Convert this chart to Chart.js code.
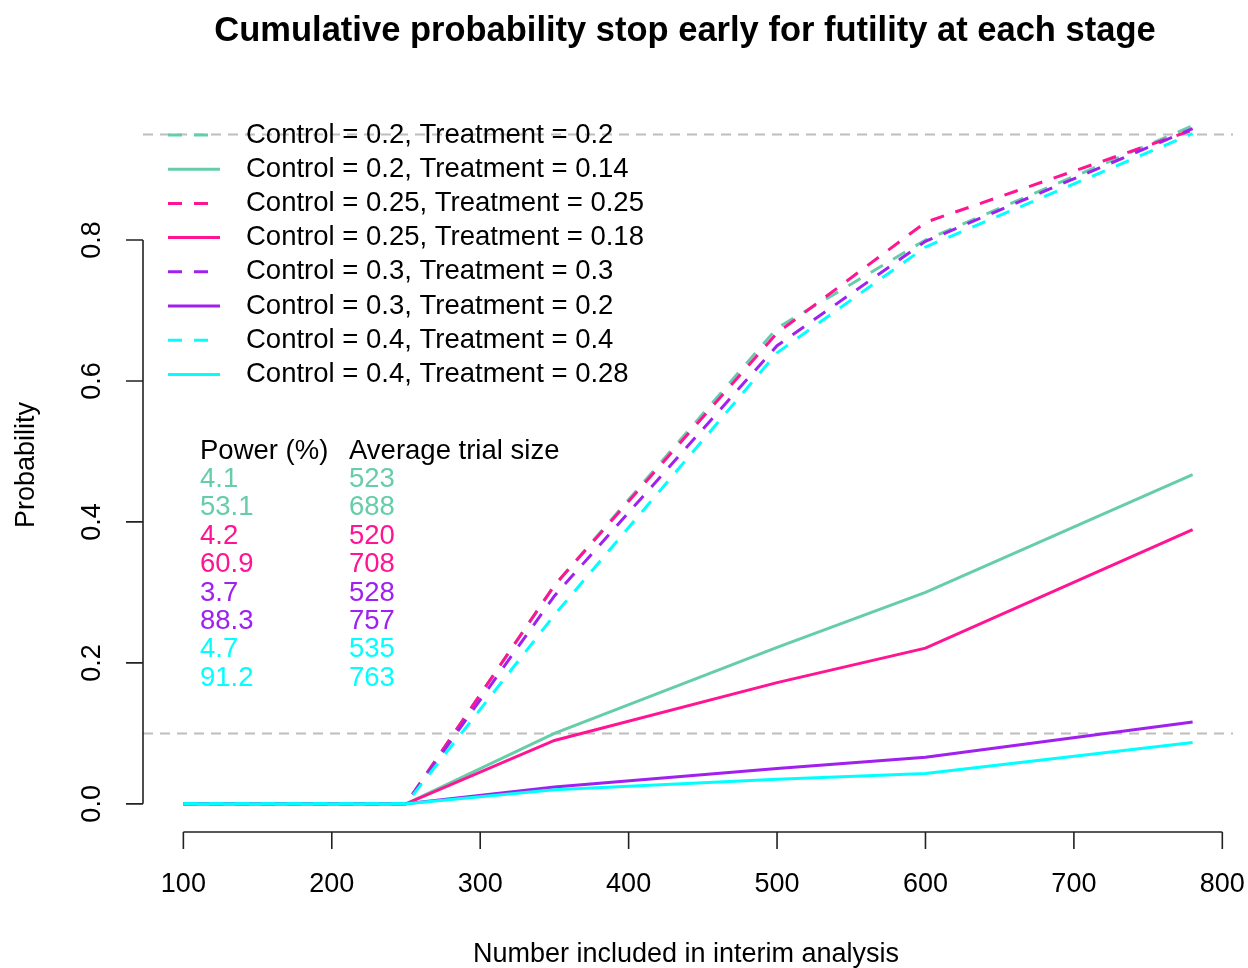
<!DOCTYPE html>
<html>
<head>
<meta charset="utf-8">
<title>Cumulative probability stop early for futility</title>
<script src="https://cdn.jsdelivr.net/npm/chart.js@4.4.1/dist/chart.umd.min.js"></script>
<style>
  body { margin: 0; background: #fff; }
  #grafico { display: block; }
</style>
</head>
<body>
<canvas id="grafico" width="1248" height="968"></canvas>
<script>
// etapas (n incluidos en cada analisis interino)
const etapas = [100, 250, 350, 500, 600, 780];

// probabilidad acumulada de parar por futilidad en cada etapa
const ctl20trt20 = [0, 0, 0.310, 0.675, 0.800, 0.962];
const ctl20trt14 = [0, 0, 0.100, 0.222, 0.300, 0.467];
const ctl25trt25 = [0, 0, 0.310, 0.668, 0.825, 0.956];
const ctl25trt18 = [0, 0, 0.090, 0.172, 0.221, 0.389];
const ctl30trt30 = [0, 0, 0.295, 0.650, 0.798, 0.958];
const ctl30trt20 = [0, 0, 0.024, 0.050, 0.066, 0.116];
const ctl40trt40 = [0, 0, 0.268, 0.640, 0.790, 0.951];
const ctl40trt28 = [0, 0, 0.020, 0.035, 0.043, 0.087];

const etiquetas = [
  'Control = 0.2, Treatment = 0.2',
  'Control = 0.2, Treatment = 0.14',
  'Control = 0.25, Treatment = 0.25',
  'Control = 0.25, Treatment = 0.18',
  'Control = 0.3, Treatment = 0.3',
  'Control = 0.3, Treatment = 0.2',
  'Control = 0.4, Treatment = 0.4',
  'Control = 0.4, Treatment = 0.28'
];
const colores = ['#66CDAA', '#66CDAA', '#FF1493', '#FF1493', '#A020F0', '#A020F0', '#00FFFF', '#00FFFF'];
const punteada = [true, false, true, false, true, false, true, false];

const potencia = ['4.1', '53.1', '4.2', '60.9', '3.7', '88.3', '4.7', '91.2'];
const tamanoMedio = ['523', '688', '520', '708', '528', '757', '535', '763'];

const ticksX = [100, 200, 300, 400, 500, 600, 700, 800];
const ticksY = [0, 0.2, 0.4, 0.6, 0.8];
const lineasRef = [0.1, 0.95];

const series = [ctl20trt20, ctl20trt14, ctl25trt25, ctl25trt18, ctl30trt30, ctl30trt20, ctl40trt40, ctl40trt28];

const fuente = '"Liberation Sans", Arial, sans-serif';
const DASH = [14, 12];

// ejes al estilo R base, lineas de referencia, leyenda y tabla
const ejesR = {
  id: 'ejesR',
  beforeDatasetsDraw(chart) {
    const { ctx, chartArea, scales } = chart;
    ctx.save();
    ctx.strokeStyle = '#BEBEBE';
    ctx.lineWidth = 2;
    ctx.setLineDash([10, 7]);
    lineasRef.forEach(v => {
      const y = Math.round(scales.y.getPixelForValue(v)) + 0.5;
      ctx.beginPath();
      ctx.moveTo(chartArea.left, y);
      ctx.lineTo(chartArea.right, y);
      ctx.stroke();
    });
    ctx.restore();
  },
  afterDraw(chart) {
    const { ctx, chartArea, scales } = chart;
    const sx = scales.x, sy = scales.y;
    ctx.save();
    ctx.strokeStyle = '#222';
    ctx.fillStyle = '#000';
    ctx.lineWidth = 1.6;

    // eje x
    const yEje = chartArea.bottom + 1;
    const x0 = sx.getPixelForValue(ticksX[0]);
    const x1 = sx.getPixelForValue(ticksX[ticksX.length - 1]);
    ctx.beginPath();
    ctx.moveTo(x0, yEje);
    ctx.lineTo(x1, yEje);
    ticksX.forEach(t => {
      const x = sx.getPixelForValue(t);
      ctx.moveTo(x, yEje);
      ctx.lineTo(x, yEje + 17);
    });
    ctx.stroke();
    ctx.font = '27px ' + fuente;
    ctx.textAlign = 'center';
    ctx.textBaseline = 'middle';
    ticksX.forEach(t => ctx.fillText(String(t), sx.getPixelForValue(t), 885));

    // eje y
    const xEje = chartArea.left;
    const ya = sy.getPixelForValue(ticksY[0]);
    const yb = sy.getPixelForValue(ticksY[ticksY.length - 1]);
    ctx.beginPath();
    ctx.moveTo(xEje, ya);
    ctx.lineTo(xEje, yb);
    ticksY.forEach(t => {
      const y = sy.getPixelForValue(t);
      ctx.moveTo(xEje, y);
      ctx.lineTo(xEje - 17, y);
    });
    ctx.stroke();
    ticksY.forEach(t => {
      ctx.save();
      ctx.translate(93, sy.getPixelForValue(t));
      ctx.rotate(-Math.PI / 2);
      ctx.fillText(t.toFixed(1), 0, 0);
      ctx.restore();
    });

    // titulos
    ctx.fillText('Number included in interim analysis', 686, 955);
    ctx.save();
    ctx.translate(27, 465);
    ctx.rotate(-Math.PI / 2);
    ctx.fillText('Probability', 0, 0);
    ctx.restore();
    ctx.font = 'bold 34.5px ' + fuente;
    ctx.fillText('Cumulative probability stop early for futility at each stage', 685, 31);

    // leyenda
    ctx.font = '27.5px ' + fuente;
    ctx.textAlign = 'left';
    etiquetas.forEach((txt, i) => {
      const y = 135 + i * 34.2;
      ctx.strokeStyle = colores[i];
      ctx.lineWidth = 3;
      ctx.setLineDash(punteada[i] ? DASH : []);
      ctx.beginPath();
      ctx.moveTo(168, y);
      ctx.lineTo(220, y);
      ctx.stroke();
      ctx.fillStyle = '#000';
      ctx.fillText(txt, 246, y);
    });
    ctx.setLineDash([]);

    // potencia y tamano medio
    ctx.fillStyle = '#000';
    ctx.fillText('Power (%)', 200, 451);
    ctx.fillText('Average trial size', 349, 451);
    potencia.forEach((p, i) => {
      const y = 479.5 + i * 28.4;
      ctx.fillStyle = colores[i];
      ctx.fillText(p, 200, y);
      ctx.fillText(tamanoMedio[i], 349, y);
    });
    ctx.restore();
  }
};

const datasets = series.map((s, i) => ({
  label: etiquetas[i],
  data: etapas.map((n, k) => ({ x: n, y: s[k] })),
  borderColor: colores[i],
  borderWidth: 3,
  borderDash: punteada[i] ? DASH : [],
  pointRadius: 0,
  fill: false,
  tension: 0,
  order: series.length - i
}));

new Chart(document.getElementById('grafico'), {
  type: 'line',
  data: { datasets: datasets },
  options: {
    responsive: false,
    animation: false,
    devicePixelRatio: 1,
    layout: { padding: { left: 143, right: 15, top: 99, bottom: 137 } },
    plugins: { legend: { display: false }, title: { display: false }, tooltip: { enabled: false } },
    scales: {
      x: { type: 'linear', min: 72.8, max: 807.2, display: false },
      y: { type: 'linear', min: -0.0385, max: 1.0, display: false }
    }
  },
  plugins: [ejesR]
});
</script>
</body>
</html>
